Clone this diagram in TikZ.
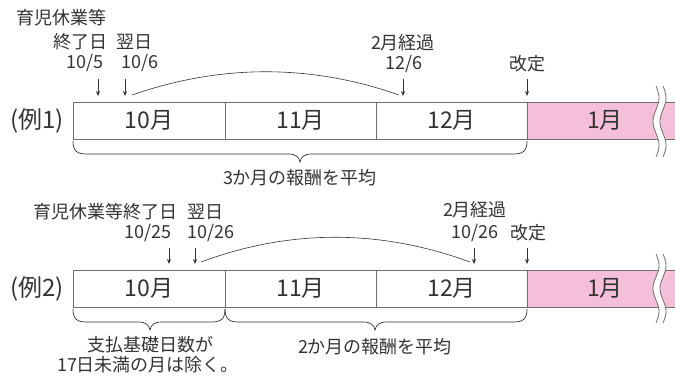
\documentclass[tikz,border=0pt]{standalone}
\usepackage{fontspec}
\setmainfont{Noto Sans CJK JP}
\usetikzlibrary{arrows.meta}
\definecolor{ink}{HTML}{333333}
\definecolor{frame}{HTML}{6E6E6E}
\definecolor{pinkc}{HTML}{F5BFD9}
\newcommand\mybrace[4]{% x1, xmid, x2, ytop
  \draw[brc] (#1,#4) .. controls (#1,#4+10) and (#1+4,#4+13) .. (#1+14,#4+13)
    -- (#2-12,#4+13) .. controls (#2-4,#4+13) and (#2-1,#4+16) .. (#2,#4+21)
    .. controls (#2+1,#4+16) and (#2+4,#4+13) .. (#2+12,#4+13)
    -- (#3-14,#4+13) .. controls (#3-4,#4+13) and (#3,#4+10) .. (#3,#4);}
\newcommand\mywave[2]{% ytop, ybot
  \fill[white] plot[domain=0:1,samples=40,smooth] ({656+3*sin(540*\x)},{#1+\x*(#2-#1)})
    -- plot[domain=1:0,samples=40,smooth] ({663+3*sin(540*\x)},{#1+\x*(#2-#1)}) -- cycle;
  \draw[frame,line width=0.8pt] plot[domain=0:1,samples=40,smooth] ({656+3*sin(540*\x)},{#1+\x*(#2-#1)});
  \draw[frame,line width=0.8pt] plot[domain=0:1,samples=40,smooth] ({663+3*sin(540*\x)},{#1+\x*(#2-#1)});}
\begin{document}
\begin{tikzpicture}[x=1pt,y=-1pt,
  lbl/.style={font=\fontsize{18}{20}\selectfont, text=ink, inner sep=0pt},
  mon/.style={font=\fontsize{23}{25}\selectfont, text=ink, inner sep=0pt},
  exl/.style={font=\fontsize{24}{26}\selectfont, text=ink, inner sep=0pt},
  cell/.style={draw=frame, line width=0.8pt, minimum height=37pt, inner sep=0pt, font=\fontsize{23}{25}\selectfont, text=ink},
  arr/.style={-{Stealth[length=5pt,width=4pt]}, line width=0.7pt, draw=ink},
  brc/.style={draw=ink, line width=0.7pt},
  arc/.style={draw=ink, line width=0.6pt}]
\useasboundingbox (0,0) rectangle (675,376);

% ---------- Example 1 ----------
\fill[pinkc] (527,102) rectangle (675,139);
\draw[frame,line width=0.8pt] (527,102) -- (675,102) (527,139) -- (675,139);
\node[cell, minimum width=152pt] (r1c1) at (149,120.5) {10月};
\node[cell, minimum width=151pt] (r1c2) at (300.5,120.5) {11月};
\node[cell, minimum width=151pt] (r1c3) at (451.5,120.5) {12月};
\node[mon] (r1c4) at (605,120.5) {1月};
\mywave{86}{157}
\node[exl] (ex1) at (37,120.5) {(例1)};

\node[lbl] (t1a) at (61.5,18) {育児休業等};
\node[lbl] (t1b) at (80,42) {終了日};
\node[lbl] (t1c) at (134,42) {翌日};
\node[lbl] (t1d) at (85,63) {10/5};
\node[lbl] (t1e) at (140,63) {10/6};
\node[lbl] (t1f) at (403,43) {2月経過};
\node[lbl] (t1g) at (404,64) {12/6};
\node[lbl] (t1h) at (527,64) {改定};

\coordinate (a1s) at (98,79);  \coordinate (a1e) at (98,96);
\coordinate (a2s) at (125,79); \coordinate (a2e) at (125,96);
\coordinate (a3s) at (403,79); \coordinate (a3e) at (403,96);
\coordinate (a4s) at (527,79); \coordinate (a4e) at (527,96);
\draw[arr] (a1s) -- (a1e);
\draw[arr] (a2s) -- (a2e);
\draw[arr] (a3s) -- (a3e);
\draw[arr] (a4s) -- (a4e);

\coordinate (c1s) at (132,95); \coordinate (c1e) at (399,95);
\draw[arc] (c1s) .. controls (221,64) and (311,64) .. (c1e);

\mybrace{73}{300}{527}{141}
\node[lbl] (s1) at (300,178) {3か月の報酬を平均};

% ---------- Example 2 ----------
\fill[pinkc] (527,270) rectangle (675,307);
\draw[frame,line width=0.8pt] (527,270) -- (675,270) (527,307) -- (675,307);
\node[cell, minimum width=152pt] (r2c1) at (149,288.5) {10月};
\node[cell, minimum width=151pt] (r2c2) at (300.5,288.5) {11月};
\node[cell, minimum width=151pt] (r2c3) at (451.5,288.5) {12月};
\node[mon] (r2c4) at (605,288.5) {1月};
\mywave{254}{323}
\node[exl] (ex2) at (37,288.5) {(例2)};

\node[lbl] (t2a) at (105,212) {育児休業等終了日};
\node[lbl] (t2b) at (205,212) {翌日};
\node[lbl] (t2c) at (148,233) {10/25};
\node[lbl] (t2d) at (211,233) {10/26};
\node[lbl] (t2e) at (475,210) {2月経過};
\node[lbl] (t2f) at (475,233) {10/26};
\node[lbl] (t2g) at (528,233) {改定};

\coordinate (b1s) at (169,248); \coordinate (b1e) at (169,264);
\coordinate (b2s) at (195,248); \coordinate (b2e) at (195,264);
\coordinate (b3s) at (474,248); \coordinate (b3e) at (474,264);
\coordinate (b4s) at (527,248); \coordinate (b4e) at (527,264);
\draw[arr] (b1s) -- (b1e);
\draw[arr] (b2s) -- (b2e);
\draw[arr] (b3s) -- (b3e);
\draw[arr] (b4s) -- (b4e);

\coordinate (c2s) at (201,262); \coordinate (c2e) at (470,262);
\draw[arc] (c2s) .. controls (290,229) and (380,229) .. (c2e);

\mybrace{73}{150}{225}{309}
\mybrace{225}{375}{527}{309}
\node[lbl] (s2a) at (150,345) {支払基礎日数が};
\node[lbl] (s2b) at (148,365) {17日未満の月は除く。};
\node[lbl] (s2c) at (375,347) {2か月の報酬を平均};
\end{tikzpicture}
\end{document}
